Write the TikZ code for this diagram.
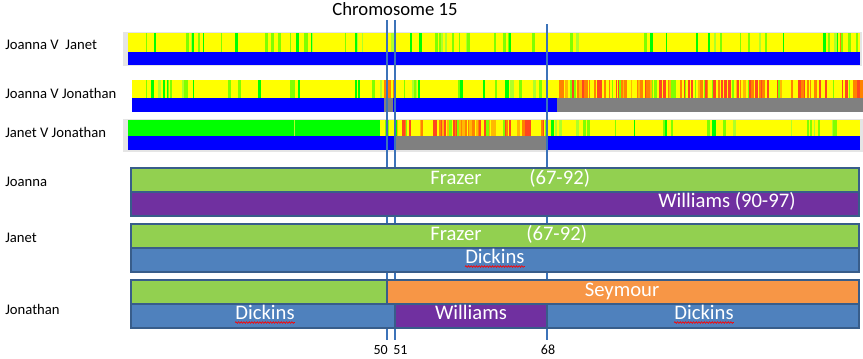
\documentclass[tikz,border=0pt]{standalone}
\usepackage{fontspec}
\setmainfont{Carlito}
\usetikzlibrary{decorations.pathmorphing}
\definecolor{yel}{RGB}{255,255,0}
\definecolor{blu}{RGB}{0,0,255}
\definecolor{gryA}{RGB}{128,128,128}
\definecolor{bgg}{RGB}{229,229,229}
\definecolor{gA}{RGB}{0,255,0}
\definecolor{gB}{RGB}{128,255,0}
\definecolor{gC}{RGB}{175,255,40}
\definecolor{rA}{RGB}{255,70,30}
\definecolor{rB}{RGB}{255,130,0}
\definecolor{rC}{RGB}{255,185,0}
\definecolor{fgreen}{RGB}{146,208,80}
\definecolor{fpurple}{RGB}{112,48,160}
\definecolor{fblue}{RGB}{79,129,189}
\definecolor{forange}{RGB}{247,150,70}
\definecolor{fborder}{RGB}{56,93,138}
\definecolor{vline}{RGB}{60,115,185}
\pgfmathdeclarerandomlist{greens}{{gA}{gB}{gB}{gC}}
\pgfmathdeclarerandomlist{reds}{{rA}{rA}{rB}{rB}{rC}{gB}}
\newcommand\mystripes[6]{%
  \foreach \k in {1,...,#5}{%
    \pgfmathsetmacro\sx{#1+rnd*(#2-#1)}%
    \pgfmathsetmacro\sw{0.8+rnd*2.6}%
    \pgfmathsetmacro\se{min(\sx+\sw,#2)}%
    \pgfmathrandomitem{\col}{#6}%
    \fill[fill=\col] (\sx,#3) rectangle (\se,#4);
  }}
\tikzset{
  lbl/.style={font=\fontsize{11}{13}\selectfont, anchor=mid west, inner sep=0},
  bartxt/.style={font=\fontsize{15.5}{18}\selectfont, text=white, inner sep=0},
  numtxt/.style={font=\fontsize{10.5}{12}\selectfont, inner sep=0},
  fam/.style={draw=fborder, line width=2.2pt},
  vl/.style={draw=vline, line width=0.85pt},
  spell/.style={draw=red, line width=0.5pt, decorate, decoration={snake, amplitude=0.6pt, segment length=2pt}},
}
\begin{document}
\begin{tikzpicture}[x=0.75pt,y=-0.75pt]
\useasboundingbox (0,0) rectangle (863,358);
\pgfmathsetseed{42}
\node[font=\fontsize{14}{16}\selectfont, inner sep=0, anchor=base] (title) at (395,15) {Chromosome 15};
% row 1
\fill[bgg] (123,32) rectangle (862,66);
\fill[yel] (128,33) rectangle (860,52);
\mystripes{128}{860}{33}{52}{65}{greens}
\fill[rB] (840,33) rectangle (841,52);
\fill[blu] (128,52) rectangle (860,65);
% row 2
\fill[yel] (132,80) rectangle (863,98);
\mystripes{132}{382}{80}{98}{24}{greens}
\mystripes{382}{394}{80}{98}{6}{reds}
\mystripes{394}{557}{80}{98}{16}{greens}
\mystripes{557}{863}{80}{98}{125}{reds}
\fill[blu] (132,98) rectangle (557,112);
\fill[gryA] (384,98) rectangle (393,112);
\fill[gryA] (557,98) rectangle (863,112);
% row 3
\fill[bgg] (123,119) rectangle (863,152);
\fill[gA] (128,120) rectangle (380,136);
\fill[gC] (294,120) rectangle (295,136);
\fill[yel] (380,120) rectangle (860,136);
\mystripes{380}{396}{120}{136}{3}{greens}
\mystripes{396}{547}{120}{136}{62}{reds}
\mystripes{547}{860}{120}{136}{24}{greens}
\fill[blu] (128,136) rectangle (396,150);
\fill[gryA] (396,136) rectangle (547,150);
\fill[blu] (547,136) rectangle (860,150);
% vertical marker lines
\coordinate (a1) at (387,20); \coordinate (a2) at (387,340);
\coordinate (b1) at (395,20); \coordinate (b2) at (395,340);
\coordinate (c1) at (547,24); \coordinate (c2) at (547,340);
\draw[vl] (a1) -- (a2);
\draw[vl] (b1) -- (b2);
\draw[vl] (c1) -- (c2);
% Joanna
\draw[fam, fill=fgreen] (131,168) rectangle (859,192);
\draw[fam, fill=fpurple] (131,192) rectangle (859,216);
% Janet
\draw[fam, fill=fgreen] (131,224) rectangle (859,248);
\draw[fam, fill=fblue] (131,248) rectangle (859,272);
% Jonathan
\draw[fam, fill=fgreen] (131,280) rectangle (387,304);
\draw[fam, fill=forange] (387,280) rectangle (859,304);
\draw[fam, fill=fblue] (131,304) rectangle (395,328);
\draw[fam, fill=fpurple] (395,304) rectangle (547,328);
\draw[fam, fill=fblue] (547,304) rectangle (859,328);
% bar texts
\node[bartxt, anchor=mid west] (fz1) at (430,181) {Frazer};
\node[bartxt, anchor=mid west] (yr1) at (529,181) {(67-92)};
\node[bartxt, anchor=mid west] (wi1) at (658,204) {Williams (90-97)};
\node[bartxt, anchor=mid west] (fz2) at (430,237) {Frazer};
\node[bartxt, anchor=mid west] (yr2) at (526,237) {(67-92)};
\node[bartxt, anchor=mid west] (dk1) at (465,260) {Dickins};
\node[bartxt, anchor=mid] (sey) at (622,293) {Seymour};
\node[bartxt, anchor=mid] (dk2) at (265,316) {Dickins};
\node[bartxt, anchor=mid] (wi2) at (471,316) {Williams};
\node[bartxt, anchor=mid] (dk3) at (704,316) {Dickins};
\draw[spell] ([yshift=-2.5pt]dk1.base west) -- ([yshift=-2.5pt]dk1.base east);
\draw[spell] ([yshift=-2.5pt]dk2.base west) -- ([yshift=-2.5pt]dk2.base east);
\draw[spell] ([yshift=-2.5pt]dk3.base west) -- ([yshift=-2.5pt]dk3.base east);
% left labels
\node[lbl] (l1) at (5,46) {Joanna V~ Janet};
\node[lbl] (l2) at (5,95) {Joanna V Jonathan};
\node[lbl] (l3) at (5,134) {Janet V Jonathan};
\node[lbl] (l4) at (5,183) {Joanna};
\node[lbl] (l5) at (5,239) {Janet};
\node[lbl] (l6) at (5,311) {Jonathan};
% numbers
\node[numtxt, anchor=mid east] (n50) at (388,351) {50};
\node[numtxt, anchor=mid west] (n51) at (393,351) {51};
\node[numtxt, anchor=mid] (n68) at (548,351) {68};
\end{tikzpicture}
\end{document}
